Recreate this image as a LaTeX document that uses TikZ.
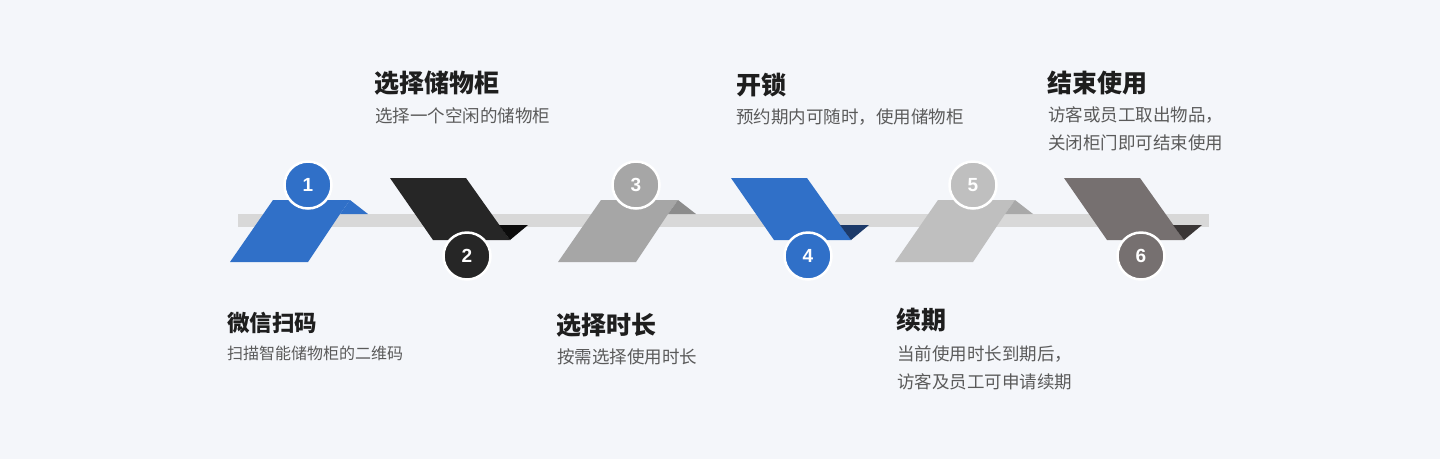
\documentclass[tikz,border=0pt]{standalone}
\usepackage{fontspec}
\setmainfont{Noto Sans CJK SC}
\newfontfamily\numfont{Liberation Sans}
\definecolor{bg}{HTML}{F4F6FA}
\definecolor{barc}{HTML}{D8D8D8}
\definecolor{blue1}{HTML}{3070C8}
\definecolor{navy}{HTML}{1C3A6A}
\definecolor{black2}{HTML}{262626}
\definecolor{black2f}{HTML}{0C0C0C}
\definecolor{gray3}{HTML}{A6A6A6}
\definecolor{gray3f}{HTML}{8C8C8C}
\definecolor{gray5}{HTML}{BFBFBF}
\definecolor{gray5f}{HTML}{A9A9A9}
\definecolor{brown6}{HTML}{767070}
\definecolor{brown6f}{HTML}{3A3636}
\definecolor{titlec}{HTML}{1E1E1E}
\definecolor{subc}{HTML}{5A5A5A}
\begin{document}
\begin{tikzpicture}[x=1pt,y=-1pt,
  numc/.style={circle,draw=white,line width=2.5pt,minimum size=47pt,inner sep=0pt,text=white,font=\numfont\bfseries\fontsize{19}{19}\selectfont},
  ttl/.style={anchor=base west,inner sep=0pt,text=titlec,font=\bfseries\fontsize{25}{25}\selectfont},
  ttlsmall/.style={anchor=base west,inner sep=0pt,text=titlec,font=\bfseries\fontsize{22.5}{22.5}\selectfont},
  sub/.style={anchor=base west,inner sep=0pt,text=subc,font=\fontsize{17.5}{17.5}\selectfont},
  subsmall/.style={anchor=base west,inner sep=0pt,text=subc,font=\fontsize{16}{16}\selectfont}]
\useasboundingbox (0,0) rectangle (1440,459);
\fill[bg] (0,0) rectangle (1440,459);
\fill[barc] (238,214) rectangle (1209,227);
% up shapes: x0, main, fold
\foreach \x/\m/\f/\n/\lab in {230/blue1/blue1/c1/1, 558/gray3/gray3f/c3/3, 895/gray5/gray5f/c5/5}{
  \begin{scope}[shift={(\x,0)}]
    \fill[\m] (0,262) -- (43,200) -- (120,200) -- (110,214) -- (78,262) -- cycle;
    \fill[\f] (120,200) -- (138,214) -- (110,214) -- cycle;
    \node[numc,fill=\m] (\n) at (78,185) {\lab};
  \end{scope}
}
% down shapes
\foreach \x/\m/\f/\n/\lab in {390/black2/black2f/c2/2, 731/blue1/navy/c4/4, 1064/brown6/brown6f/c6/6}{
  \begin{scope}[shift={(\x,0)}]
    \fill[\m] (0,178) -- (76,178) -- (120,240) -- (43,240) -- cycle;
    \fill[\f] (109,225) -- (138,225) -- (120,240) -- cycle;
    \node[numc,fill=\m] (\n) at (77,256) {\lab};
  \end{scope}
}
% texts
\node[ttlsmall] (t1) at (227,331) {微信扫码};
\node[subsmall] (s1) at (227,359.5) {扫描智能储物柜的二维码};
\node[ttl] (t2) at (374,92) {选择储物柜};
\node[sub] (s2) at (375,122.5) {选择一个空闲的储物柜};
\node[ttl] (t3) at (556,334) {选择时长};
\node[sub] (s3) at (557,363.5) {按需选择使用时长};
\node[ttl] (t4) at (736,94) {开锁};
\node[sub] (s4) at (736,123.5) {预约期内可随时，使用储物柜};
\node[ttl] (t5) at (896,329) {续期};
\node[sub] (s5a) at (897,360.5) {当前使用时长到期后，};
\node[sub] (s5b) at (897,388.5) {访客及员工可申请续期};
\node[ttl] (t6) at (1047,92) {结束使用};
\node[sub] (s6a) at (1048,121.5) {访客或员工取出物品，};
\node[sub] (s6b) at (1048,149.5) {关闭柜门即可结束使用};
\end{tikzpicture}
\end{document}
